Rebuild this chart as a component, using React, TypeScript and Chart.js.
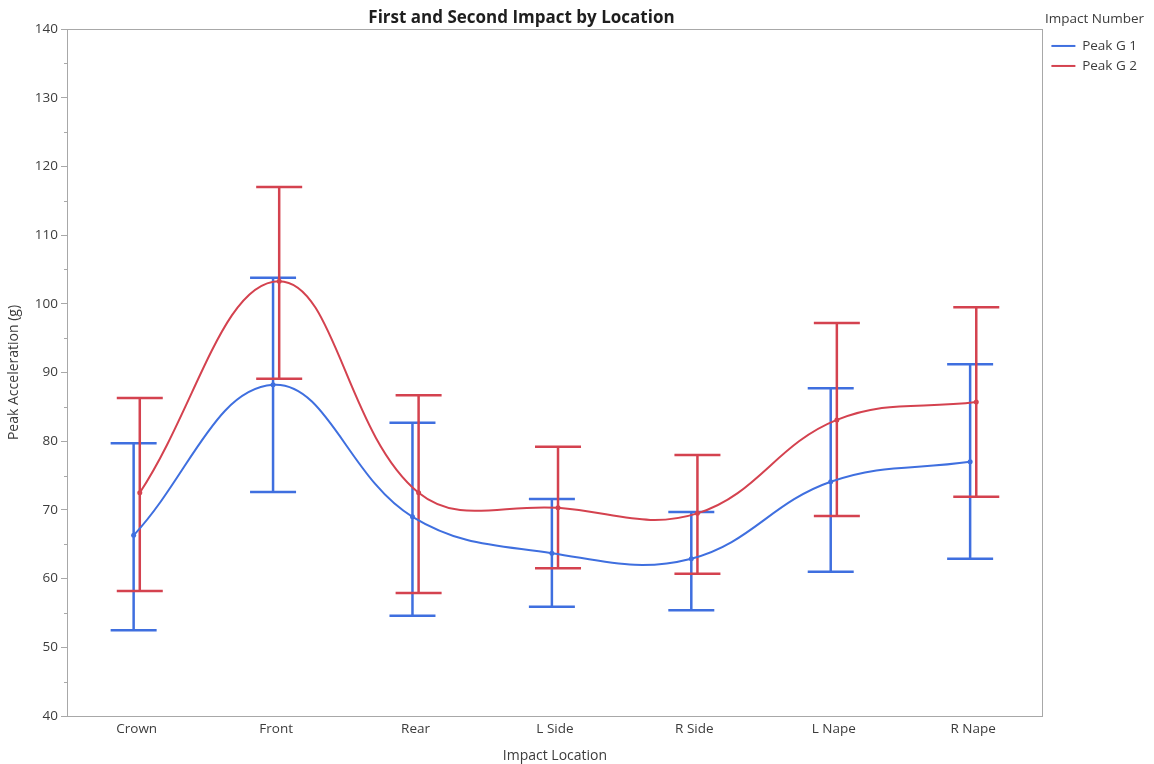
import React, { useEffect, useRef } from 'react';
import { Chart, registerables } from 'chart.js';

Chart.register(...registerables);

// ---- data ----
const categories = ['Crown', 'Front', 'Rear', 'L Side', 'R Side', 'L Nape', 'R Nape'];
const g1Mean = [66.3, 88.2, 69.0, 63.7, 62.9, 74.1, 77.0];
const g1Upper = [79.7, 103.8, 82.7, 71.6, 69.7, 87.7, 91.2];
const g1Lower = [52.5, 72.6, 54.6, 55.9, 55.4, 61.0, 62.9];
const g2Mean = [72.5, 103.3, 72.5, 70.3, 69.5, 83.1, 85.7];
const g2Upper = [86.3, 117.0, 86.7, 79.2, 78.0, 97.2, 99.5];
const g2Lower = [58.2, 89.1, 57.9, 61.5, 60.7, 69.1, 71.9];

const seriesNames = ['Peak G 1', 'Peak G 2'];
const chartTitle = 'First and Second Impact by Location';
const xTitle = 'Impact Location';
const yTitle = 'Peak Acceleration (g)';
const legendTitle = 'Impact Number';
const yMin = 40;
const yMax = 140;
const yMajorStep = 10;
const yMinorStep = 5;

// ---- style ----
const FONT = "'Open Sans', 'Noto Sans', sans-serif";
const seriesColors = ['#3f6fdf', '#d4424f'];
const seriesOffsets = [-0.022, 0.022];
const axisColor = '#a8a8a8';
const textColor = '#3c3c3c';
const CAP_HALF = 23;

const means = [g1Mean, g2Mean];
const lowers = [g1Lower, g2Lower];
const uppers = [g1Upper, g2Upper];

const errorBarPlugin = {
  id: 'errorBars',
  beforeDatasetsDraw(chart: any) {
    const { ctx } = chart;
    const x = chart.scales.x;
    const y = chart.scales.y;
    ctx.save();
    ctx.lineWidth = 2.5;
    ctx.lineCap = 'butt';
    lowers.forEach((lo, s) => {
      const hi = uppers[s];
      ctx.strokeStyle = seriesColors[s];
      lo.forEach((l, i) => {
        const px = x.getPixelForValue(i + seriesOffsets[s]);
        const pl = y.getPixelForValue(l);
        const ph = y.getPixelForValue(hi[i]);
        ctx.beginPath();
        ctx.moveTo(px, pl);
        ctx.lineTo(px, ph);
        ctx.moveTo(px - CAP_HALF, pl);
        ctx.lineTo(px + CAP_HALF, pl);
        ctx.moveTo(px - CAP_HALF, ph);
        ctx.lineTo(px + CAP_HALF, ph);
        ctx.stroke();
      });
    });
    ctx.restore();
  },
  afterDraw(chart: any) {
    const { ctx, chartArea } = chart;
    const y = chart.scales.y;
    ctx.save();
    // minor ticks
    ctx.strokeStyle = axisColor;
    ctx.lineWidth = 1;
    for (let v = yMin + yMinorStep; v < yMax; v += yMajorStep) {
      const py = Math.round(y.getPixelForValue(v)) + 0.5;
      ctx.beginPath();
      ctx.moveTo(chartArea.left - 3, py);
      ctx.lineTo(chartArea.left, py);
      ctx.stroke();
    }
    // main title
    ctx.fillStyle = '#1e1e1e';
    ctx.font = `bold 17px ${FONT}`;
    ctx.textAlign = 'center';
    ctx.textBaseline = 'middle';
    ctx.fillText(chartTitle, chartArea.right / 2, 18);
    ctx.restore();
  },
};

export default function App() {
  const ref = useRef<HTMLCanvasElement>(null);
  useEffect(() => {
    if (!ref.current) return;
    Chart.defaults.font.family = FONT;
    const chart = new Chart(ref.current, {
      type: 'line',
      data: {
        datasets: means.map((m, s) => ({
          label: seriesNames[s],
          data: m.map((v, i) => ({ x: i + seriesOffsets[s], y: v })),
          borderColor: seriesColors[s],
          backgroundColor: seriesColors[s],
          borderWidth: 2,
          tension: 0.4,
          fill: false,
          pointRadius: 2.5,
          pointBorderWidth: 0,
          pointBackgroundColor: seriesColors[s],
        })),
      },
      options: {
        responsive: false,
        animation: false,
        layout: { padding: { top: 0, left: 0, right: 7, bottom: 0 } },
        plugins: {
          title: { display: false },
          tooltip: { enabled: false },
          legend: {
            position: 'right',
            align: 'start',
            title: {
              display: true,
              text: legendTitle,
              position: 'start',
              color: textColor,
              font: { size: 13.5 },
              padding: { top: 12.5, bottom: 4 },
            },
            labels: {
              boxWidth: 24,
              boxHeight: 2,
              padding: 6.5,
              color: textColor,
              font: { size: 13.5 },
              generateLabels: (c: any) =>
                (Chart.defaults.plugins.legend.labels.generateLabels as any)(c).map((l: any) => ({
                  ...l,
                  lineWidth: 0,
                  fillStyle: seriesColors[l.datasetIndex],
                  strokeStyle: seriesColors[l.datasetIndex],
                })),
            },
          },
        },
        scales: {
          x: {
            type: 'linear',
            position: 'bottom',
            min: -0.5,
            max: 6.5,
            afterBuildTicks: (s: any) => {
              s.ticks = categories.map((_, i) => ({ value: i }));
            },
            afterFit: (s: any) => {
              s.height = 48;
            },
            ticks: {
              callback: (v: any) => categories[v] ?? '',
              padding: 5,
              color: textColor,
              font: { size: 13.5 },
              autoSkip: false,
              maxRotation: 0,
            },
            grid: { display: false, drawTicks: false },
            border: { display: true, color: axisColor, width: 1 },
            title: {
              display: true,
              text: xTitle,
              color: textColor,
              font: { size: 14 },
              padding: { top: 11, bottom: 0 },
            },
          },
          xTop: {
            type: 'linear',
            position: 'top',
            min: -0.5,
            max: 6.5,
            ticks: { display: false },
            grid: { display: false, drawTicks: false },
            border: { display: true, color: axisColor, width: 1 },
            afterFit: (s: any) => {
              s.height = 29;
            },
          },
          y: {
            type: 'linear',
            position: 'left',
            min: yMin,
            max: yMax,
            ticks: {
              stepSize: yMinorStep,
              callback: (v: any) => (v % yMajorStep === 0 ? String(v) : ''),
              padding: 3,
              color: textColor,
              font: { size: 13.5 },
            },
            grid: {
              drawOnChartArea: false,
              tickLength: 6,
              tickColor: (ctx: any) =>
                ctx.tick && ctx.tick.value % yMajorStep === 0 ? axisColor : 'rgba(0,0,0,0)',
            },
            border: { display: true, color: axisColor, width: 1 },
            title: {
              display: true,
              text: yTitle,
              color: textColor,
              font: { size: 14 },
              padding: { top: 6, bottom: 0 },
            },
            afterFit: (s: any) => {
              s.width = 67;
            },
          },
          yRight: {
            type: 'linear',
            position: 'right',
            min: yMin,
            max: yMax,
            ticks: { display: false },
            grid: { display: false, drawTicks: false },
            border: { display: true, color: axisColor, width: 1 },
            afterFit: (s: any) => {
              s.width = 2;
            },
          },
        },
      } as any,
      plugins: [errorBarPlugin],
    });
    return () => chart.destroy();
  }, []);

  return (
    <div style={{ position: 'absolute', left: 0, top: 0, width: 1154, height: 764, background: '#fff' }}>
      <canvas ref={ref} width={1154} height={764} style={{ display: 'block' }} />
    </div>
  );
}
